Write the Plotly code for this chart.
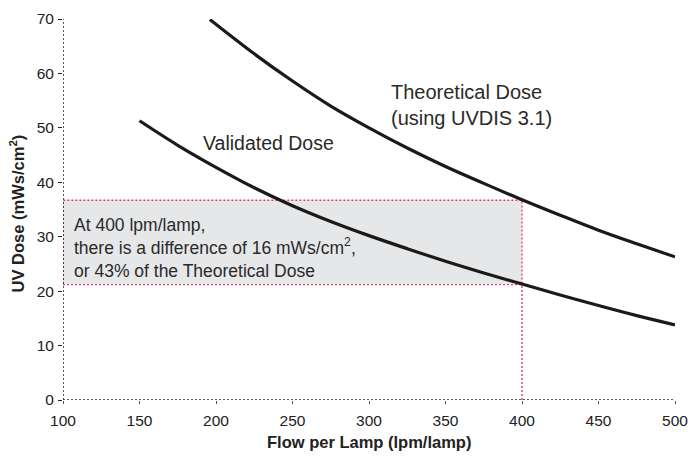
import plotly.graph_objects as go

# Data
theo_x = [196, 225, 250, 275, 300, 325, 350, 375, 400, 425, 450, 475, 500]
theo_y = [69.9, 63.6, 58.6, 54.0, 50.0, 46.3, 42.9, 39.8, 36.8, 33.95, 31.2, 28.7, 26.3]
val_x = [150, 175, 200, 225, 250, 275, 300, 325, 350, 375, 400, 425, 450, 475, 500]
val_y = [51.3, 46.8, 42.75, 39.0, 35.7, 32.8, 30.2, 27.8, 25.5, 23.35, 21.3, 19.3, 17.35, 15.5, 13.8]
x_ticks = [100, 150, 200, 250, 300, 350, 400, 450, 500]
y_ticks = [0, 10, 20, 30, 40, 50, 60, 70]
ref_flow = 400
ref_theo = 36.7
ref_val = 21.2

FONT = "Liberation Sans, Arial, Helvetica, sans-serif"
RED = "#e8405a"
TXT = "#2a2a2a"

fig = go.Figure()
fig.add_trace(go.Scatter(x=theo_x, y=theo_y, mode="lines", line=dict(color="#1a1a1a", width=3.2, shape="spline"),
                         name="Theoretical Dose"))
fig.add_trace(go.Scatter(x=val_x, y=val_y, mode="lines", line=dict(color="#1a1a1a", width=3.2, shape="spline"),
                         name="Validated Dose"))

# shaded highlight rectangle
fig.add_shape(type="rect", x0=100, x1=ref_flow, y0=ref_val, y1=ref_theo, xref="x", yref="y",
              fillcolor="#e6e7e9", line=dict(color=RED, width=1.4, dash="2px,2px"), layer="below")
fig.add_shape(type="line", x0=ref_flow, x1=ref_flow, y0=0, y1=ref_val, xref="x", yref="y",
              line=dict(color=RED, width=1.4, dash="2px,2px"), layer="below")
# dotted axes
fig.add_shape(type="line", x0=100, x1=500, y0=0, y1=0, xref="x", yref="y",
              line=dict(color="#222", width=1.5, dash="2px,2px"))
fig.add_shape(type="line", x0=100, x1=100, y0=0, y1=70, xref="x", yref="y",
              line=dict(color="#222", width=1.5, dash="2px,2px"))

fig.add_annotation(x=106, y=28.0, xref="x", yref="y", xanchor="left", yanchor="middle", align="left",
                   showarrow=False, font=dict(family=FONT, size=17.5, color=TXT),
                   text="At 400 lpm/lamp,<br>there is a difference of 16 mWs/cm<sup>2</sup>,<br>or 43% of the Theoretical Dose")
fig.add_annotation(x=190, y=47.2, xref="x", yref="y", xanchor="left", yanchor="middle",
                   showarrow=False, font=dict(family=FONT, size=19.5, color=TXT),
                   text="Validated Dose")
fig.add_annotation(x=313, y=54.2, xref="x", yref="y", xanchor="left", yanchor="middle", align="left",
                   showarrow=False, font=dict(family=FONT, size=20, color=TXT),
                   text="Theoretical Dose<br>(using UVDIS 3.1)")

# axis titles
fig.add_annotation(x=-0.075, y=0.49, xref="paper", yref="paper", xanchor="center", yanchor="middle",
                   textangle=-90, showarrow=False, font=dict(family=FONT, size=16.5, color="#222"),
                   text="<b>UV Dose (mWs/cm<sup>2</sup>)</b>")
fig.add_annotation(x=0.5, y=-0.11, xref="paper", yref="paper", xanchor="center", yanchor="middle",
                   showarrow=False, font=dict(family=FONT, size=16.5, color="#222"),
                   text="<b>Flow per Lamp (lpm/lamp)</b>")

fig.update_layout(
    width=691, height=458,
    margin=dict(l=63, r=16, t=19, b=58),
    paper_bgcolor="white", plot_bgcolor="white",
    showlegend=False,
    font=dict(family=FONT, size=15, color="#222"),
    xaxis=dict(range=[100, 500], tickvals=x_ticks, ticktext=[str(v) for v in x_ticks],
               showgrid=False, zeroline=False, showline=False, automargin=False,
               ticks="outside", ticklen=3, tickwidth=1, tickcolor="#555", ticklabelstandoff=3,
               tickfont=dict(family=FONT, size=15.5, color="#222")),
    yaxis=dict(range=[0, 70], tickvals=y_ticks, ticktext=[str(v) for v in y_ticks],
               showgrid=False, zeroline=False, showline=False, automargin=False,
               ticks="outside", ticklen=4, tickwidth=1.3, tickcolor="#222", ticklabelstandoff=1,
               tickfont=dict(family=FONT, size=15.5, color="#222")),
)

fig.write_html("out.html", config={"displayModeBar": False},
               post_script="document.body.style.margin='0';document.body.style.overflow='hidden';")
